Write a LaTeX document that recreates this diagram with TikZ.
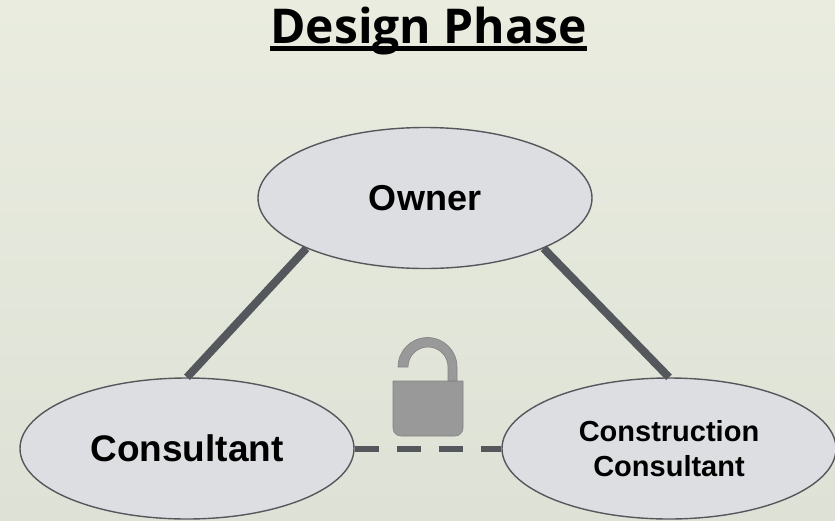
\documentclass[tikz,border=0pt]{standalone}
\usepackage{fontspec}
\usepackage{xcolor}
\usepackage{tikz}
\usetikzlibrary{shapes.geometric}
\setmainfont{Liberation Sans}
\newfontfamily\titlefont{Open Sans}
\definecolor{bgtop}{RGB}{233,236,223}
\definecolor{bgbottom}{RGB}{222,226,214}
\definecolor{partyfill}{RGB}{221,222,225}
\definecolor{linkgray}{RGB}{84,88,93}
\definecolor{lockgray}{RGB}{153,153,153}

\begin{document}
\begin{tikzpicture}[x=1pt,y=-1pt,
    party/.style={ellipse,draw=linkgray,line width=1.4pt,fill=partyfill,minimum width=334pt,minimum height=141pt,inner sep=0pt,font=\bfseries\fontsize{36}{40}\selectfont},
    link/.style={draw=linkgray,line width=8pt},
    openlink/.style={draw=linkgray,line width=6pt,dash pattern=on 24pt off 18pt}]
                \useasboundingbox (0,0) rectangle (835,520);
                \shade[top color=bgtop,bottom color=bgbottom] (0,0) rectangle (835,520);
                \fill[black] (270,46) rectangle (587,51);
                \node[anchor=base] (title) at (428.5,43) {\titlefont\bfseries\fontsize{48}{52}\selectfont Design Phase};
                \node[party] (owner) at (425,198) {Owner};
                \node[party,font=\bfseries\fontsize{37}{42}\selectfont] (consultant) at (187,448.5) {Consultant};
                \node[party,align=center,font=\bfseries\fontsize{29}{35}\selectfont] (construction) at (669,448.5) {Construction\\Consultant};
                \draw[link] (owner.203.5) -- (consultant.north);
                \draw[link] (owner.337.5) -- (construction.north);
                \draw[openlink] (consultant.east) -- (construction.west);
                \filldraw[lockgray,draw=lockgray!85!black,line width=0.6pt] (393,381) -- (463,381) -- (463,428) arc[start angle=0,end angle=90,radius=8] -- (401,436) arc[start angle=90,end angle=180,radius=8] -- cycle;
                \filldraw[lockgray,draw=lockgray!85!black,line width=0.6pt] (398,367) arc[start angle=180,end angle=360,radius=29.5] -- (457,381) -- (448,381) -- (448,367) arc[start angle=0,end angle=-180,radius=20] -- cycle;
            \end{tikzpicture}
\end{document}
